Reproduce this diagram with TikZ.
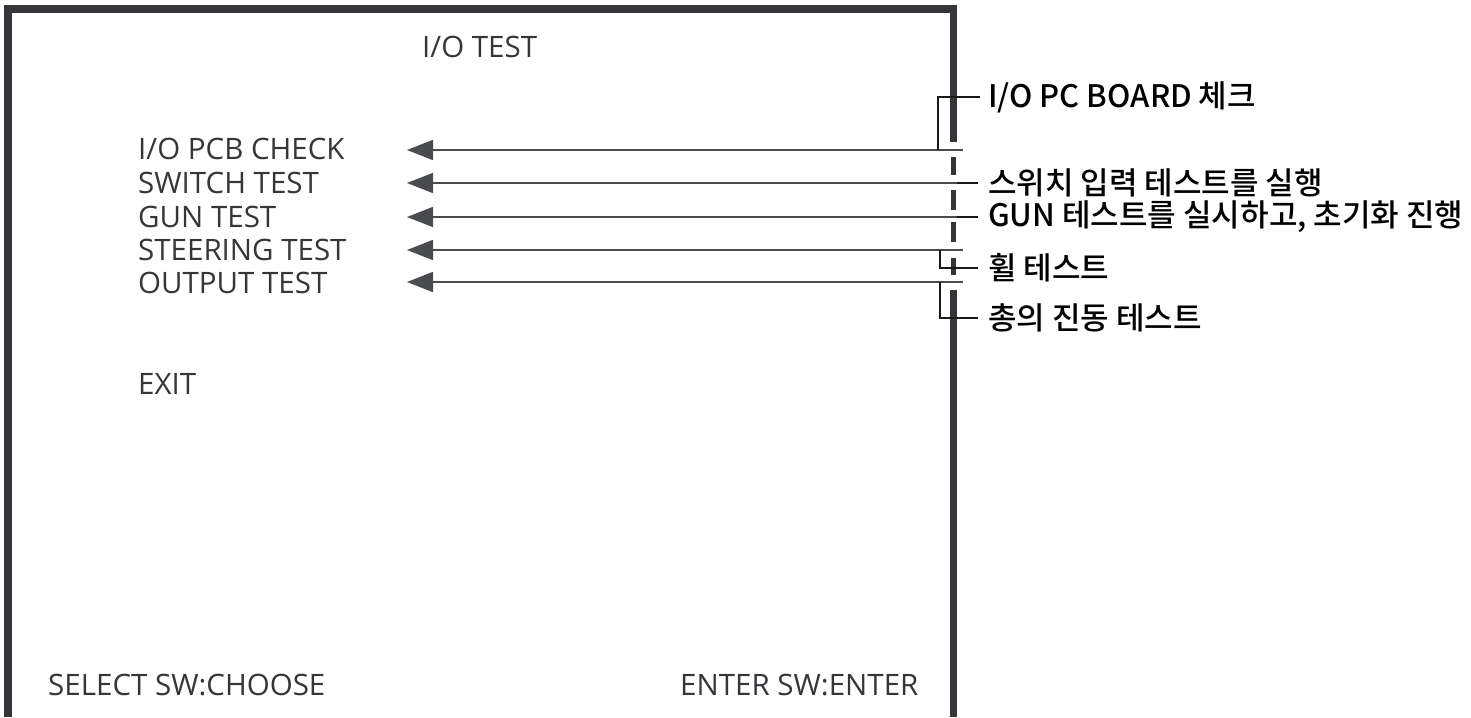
\documentclass[tikz,border=0pt]{standalone}
\usepackage{fontspec}
\setmainfont{Open Sans}
\newfontfamily\kr{Noto Sans CJK KR}[UprightFont={* Medium}]
\usetikzlibrary{arrows.meta}
\definecolor{framec}{HTML}{35363A}
\definecolor{txt}{HTML}{35363A}
\definecolor{lnc}{HTML}{4A4B4E}
\begin{document}
\begin{tikzpicture}[x=1pt,y=-1pt,
  menu/.style={anchor=west,inner sep=0pt,text=txt,font=\fontsize{29.5}{29.5}\selectfont},
  note/.style={anchor=west,inner sep=0pt,font=\kr\fontsize{31}{31}\selectfont},
  border/.style={draw=framec,line width=8pt},
  rborder/.style={draw=framec,line width=6.5pt},
  rdash/.style={draw=framec,line width=5.5pt},
  arrowline/.style={draw=lnc,line width=1.8pt,-{Triangle[length=26pt,width=20pt]}},
  tick/.style={draw=black!90,line width=2pt}]
\useasboundingbox (0,0) rectangle (1471,717);
% frame
\draw[border] (8,717) -- (8,9) -- (957,9);
\draw[rborder] (953.5,5) -- (953.5,142);
\draw[rdash] (953.5,157) -- (953.5,175);
\draw[rdash] (953.5,190) -- (953.5,210);
\draw[rdash] (953.5,222) -- (953.5,242);
\draw[rdash] (953.5,258) -- (953.5,275);
\draw[rborder] (953.5,290) -- (953.5,717);
% menu texts
\node[menu] (title) at (422,47) {I/O TEST};
\node[menu] (m1) at (138,149) {I/O PCB CHECK};
\node[menu] (m2) at (138,183) {SWITCH TEST};
\node[menu] (m3) at (138,217) {GUN TEST};
\node[menu] (m4) at (138,250) {STEERING TEST};
\node[menu] (m5) at (138,283) {OUTPUT TEST};
\node[menu] (exit) at (138,384) {EXIT};
\node[menu] (sel) at (48,685) {SELECT SW:CHOOSE};
\node[menu] (ent) at (680,685) {ENTER SW:ENTER};
% notes
\node[note] (n1) at (988,97) {I/O PC BOARD 체크};
\node[note] (n2) at (988,183) {스위치 입력 테스트를 실행};
\node[note] (n3) at (988,217) {GUN 테스트를 실시하고, 초기화 진행};
\node[note] (n4) at (988,268) {휠 테스트};
\node[note] (n5) at (988,318) {총의 진동 테스트};
% connectors
\coordinate (tipx) at (407,0);
\coordinate (e1) at (963,150);
\coordinate (e2) at (978,183);
\coordinate (e3) at (978,217);
\coordinate (e4) at (963,250);
\coordinate (e5) at (963,282);
\draw[arrowline] (e1) -- (e1 -| tipx);
\draw[arrowline] (e2) -- (e2 -| tipx);
\draw[arrowline] (e3) -- (e3 -| tipx);
\draw[arrowline] (e4) -- (e4 -| tipx);
\draw[arrowline] (e5) -- (e5 -| tipx);
\draw[tick] (957,183) -- (e2);
\draw[tick] (957,217) -- (e3);
\draw[tick] (938,150) |- ([xshift=-8pt]n1.west);
\draw[tick] (940,250) |- ([xshift=-10pt]n4.west);
\draw[tick] (940,282) |- ([xshift=-10pt]n5.west);
\end{tikzpicture}
\end{document}
